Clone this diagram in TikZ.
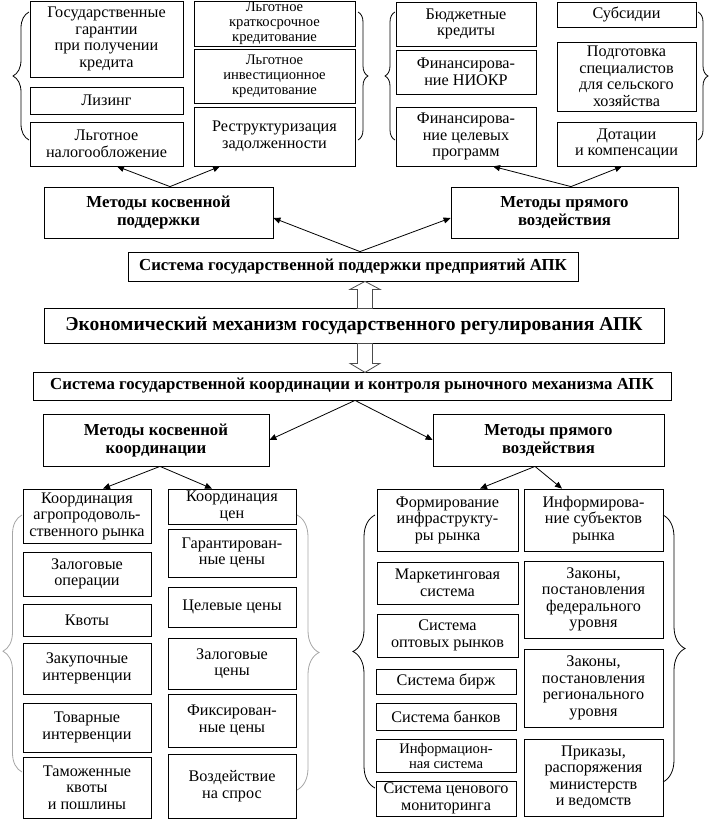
\documentclass[tikz,border=0pt]{standalone}
\usepackage{fontspec}
\setmainfont{Liberation Serif}
\usetikzlibrary{arrows.meta,decorations.pathreplacing}

\tikzset{
  box/.style={draw, line width=0.8pt, inner sep=0pt, align=center, font=\fontsize{16.2}{16.5}\selectfont},
  head/.style={box, font=\fontsize{16.8}{18}\selectfont\bfseries},
  tight/.style={font=\fontsize{14.6}{15}\selectfont},
  arr/.style={line width=0.8pt, -{Triangle[length=7pt,width=6pt]}},
  hollow/.style={draw=black!70, line width=0.8pt, fill=white},
  brc/.style={decorate, line width=0.8pt, decoration={brace, amplitude=#1}},
}

\begin{document}
\begin{tikzpicture}[x=1pt, y=-1pt]
\useasboundingbox (0,0) rectangle (710,819);
% indirect support
\node[box, minimum width=153pt, minimum height=76pt] (gar) at (106.5,39) {Государственные\\гарантии\\при получении\\кредита};
\node[box, minimum width=153pt, minimum height=27pt] (liz) at (106.5,100.5) {Лизинг};
\node[box, minimum width=153pt, minimum height=44pt] (nal) at (106.5,144) {Льготное\\налогообложение};
\node[box, tight, minimum width=161pt, minimum height=45pt] (kra) at (274.5,23.5) {Льготное\\краткосрочное\\кредитование};
\node[box, tight, minimum width=161pt, minimum height=54pt] (inv) at (274.5,76) {Льготное\\инвестиционное\\кредитование};
\node[box, minimum width=161pt, minimum height=59pt] (res) at (274.5,136.5) {Реструктуризация\\задолженности};
% direct support
\node[box, minimum width=140pt, minimum height=44pt] (bud) at (466,24) {Бюджетные\\кредиты};
\node[box, minimum width=140pt, minimum height=44pt] (niokr) at (466,72) {Финансирова-\\ние НИОКР};
\node[box, minimum width=140pt, minimum height=59pt] (celprog) at (466,136.5) {Финансирова-\\ние целевых\\программ};
\node[box, minimum width=139pt, minimum height=25pt] (sub) at (626.5,14.5) {Субсидии};
\node[box, minimum width=139pt, minimum height=69pt] (podg) at (626.5,76.5) {Подготовка\\специалистов\\для сельского\\хозяйства};
\node[box, minimum width=139pt, minimum height=44pt] (dot) at (626.5,144) {Дотации\\и компенсации};
% main blocks
\node[head, minimum width=229pt, minimum height=51pt] (kosP) at (158.5,212.5) {Методы косвенной\\поддержки};
\node[head, minimum width=227pt, minimum height=51pt] (prP) at (564.5,212.5) {Методы прямого\\воздействия};
\node[head, minimum width=450pt, minimum height=29pt] (supp) at (353,266.5) {Система государственной поддержки предприятий АПК};
\node[head, font=\fontsize{19.6}{21}\selectfont\bfseries, minimum width=620pt, minimum height=35pt] (econ) at (354,325.5) {Экономический механизм государственного регулирования АПК};
\node[head, minimum width=638pt, minimum height=28pt] (coord) at (352,386) {Система государственной координации и контроля рыночного механизма АПК};
\node[head, minimum width=226pt, minimum height=52pt] (kosK) at (156,440) {Методы косвенной\\координации};
\node[head, minimum width=231pt, minimum height=52pt] (prK) at (548.5,440) {Методы прямого\\воздействия};
% indirect coordination
\node[box, minimum width=128pt, minimum height=54pt] (agro) at (87,516) {Координация\\агропродоволь-\\ственного рынка};
\node[box, minimum width=128pt, minimum height=44pt] (zalop) at (87,574) {Залоговые\\операции};
\node[box, minimum width=128pt, minimum height=32pt] (kvot) at (87,620) {Квоты};
\node[box, minimum width=128pt, minimum height=51pt] (zak) at (87,668.5) {Закупочные\\интервенции};
\node[box, minimum width=128pt, minimum height=49pt] (tov) at (87,727.5) {Товарные\\интервенции};
\node[box, minimum width=128pt, minimum height=61pt] (tam) at (87,787.5) {Таможенные\\квоты\\и пошлины};
\node[box, minimum width=128pt, minimum height=35pt] (ceny) at (232,506.5) {Координация\\цен};
\node[box, minimum width=128pt, minimum height=48pt] (garc) at (232,553) {Гарантирован-\\ные цены};
\node[box, minimum width=128pt, minimum height=40pt] (celc) at (232,607) {Целевые цены};
\node[box, minimum width=128pt, minimum height=51pt] (zalc) at (232,663.5) {Залоговые\\цены};
\node[box, minimum width=128pt, minimum height=53pt] (fix) at (232,720.5) {Фиксирован-\\ные цены};
\node[box, minimum width=128pt, minimum height=64pt] (spros) at (232,786) {Воздействие\\на спрос};
% direct coordination
\node[box, minimum width=141pt, minimum height=62pt] (infr) at (447.5,520) {Формирование\\инфраструкту-\\ры рынка};
\node[box, minimum width=141pt, minimum height=42pt] (mark) at (447.5,583) {Маркетинговая\\система};
\node[box, minimum width=141pt, minimum height=43pt] (opt) at (447.5,635.5) {Система\\оптовых рынков};
\node[box, minimum width=140pt, minimum height=25pt] (birzh) at (446,681.5) {Система бирж};
\node[box, minimum width=140pt, minimum height=27pt] (bank) at (446,716.5) {Система банков};
\node[box, tight, minimum width=140pt, minimum height=33pt] (infs) at (446,755.5) {Информацион-\\ная система};
\node[box, minimum width=140pt, minimum height=35pt] (mon) at (446,798.5) {Система ценового\\мониторинга};
\node[box, minimum width=139pt, minimum height=62pt] (inform) at (593.5,520) {Информирова-\\ние субъектов\\рынка};
\node[box, minimum width=139pt, minimum height=77pt] (fed) at (593.5,599.5) {Законы,\\постановления\\федерального\\уровня};
\node[box, minimum width=139pt, minimum height=78pt] (reg) at (593.5,688) {Законы,\\постановления\\регионального\\уровня};
\node[box, minimum width=139pt, minimum height=77pt] (prik) at (593.5,777.5) {Приказы,\\распоряжения\\министерств\\и ведомств};
% arrows
\draw[arr] ([xshift=11.5pt]kosP.north) -- ([xshift=10.5pt]nal.south);
\draw[arr] ([xshift=11.5pt]kosP.north) -- ([xshift=-54.5pt]res.south);
\draw[arr] ([xshift=6.5pt]prP.north) -- ([xshift=27pt]celprog.south);
\draw[arr] ([xshift=6.5pt]prP.north) -- ([xshift=-4.5pt]dot.south);
\draw[arr] ([xshift=7pt]supp.north) -- ([yshift=-5.5pt]kosP.east);
\draw[arr] ([xshift=7pt]supp.north) -- ([yshift=-5.5pt]prP.west);
\draw[arr] ([xshift=3pt]coord.south) -- (kosK.east);
\draw[arr] ([xshift=3pt]coord.south) -- (prK.west);
\draw[arr] ([xshift=4pt]kosK.south) -- ([xshift=16pt]agro.north);
\draw[arr] ([xshift=4pt]kosK.south) -- ([xshift=-20pt]ceny.north);
\draw[arr] ([xshift=-13.5pt]prK.south) -- ([xshift=32.5pt]infr.north);
\draw[arr] ([xshift=-13.5pt]prK.south) -- ([xshift=-31.5pt]inform.north);
% hollow arrows
\path (supp.south) ++(12,0) coordinate (upT);
\draw[hollow] (upT) -- ++(15,8) -- ++(-7.5,0) -- ++(0,19) -- ++(-15,0) -- ++(0,-19) -- ++(-7.5,0) -- cycle;
\path (econ.south) ++(3.5,0) coordinate (dnS);
\draw[hollow] (dnS) -- ++(15,0) -- ++(0,20) -- ++(7.5,0) -- ++(-15,9) -- ++(-15,-9) -- ++(7.5,0) -- cycle;
% braces
\draw[brc=16pt] (29,140) -- (29,12);
\draw[brc=10pt] (358,12) -- (358,140);
\draw[brc=10pt] (395,140) -- (395,12);
\draw[brc=10pt] (698,12) -- (698,140);
\draw[brc=19pt, gray!70, decoration={aspect=0.47}] (22,772) -- (22,515);
\draw[brc=22pt, gray!70] (297,515) -- (297,790);
\draw[brc=22pt] (375,788) -- (375,515);
\draw[brc=22pt] (663,515) -- (663,782);
\end{tikzpicture}
\end{document}
